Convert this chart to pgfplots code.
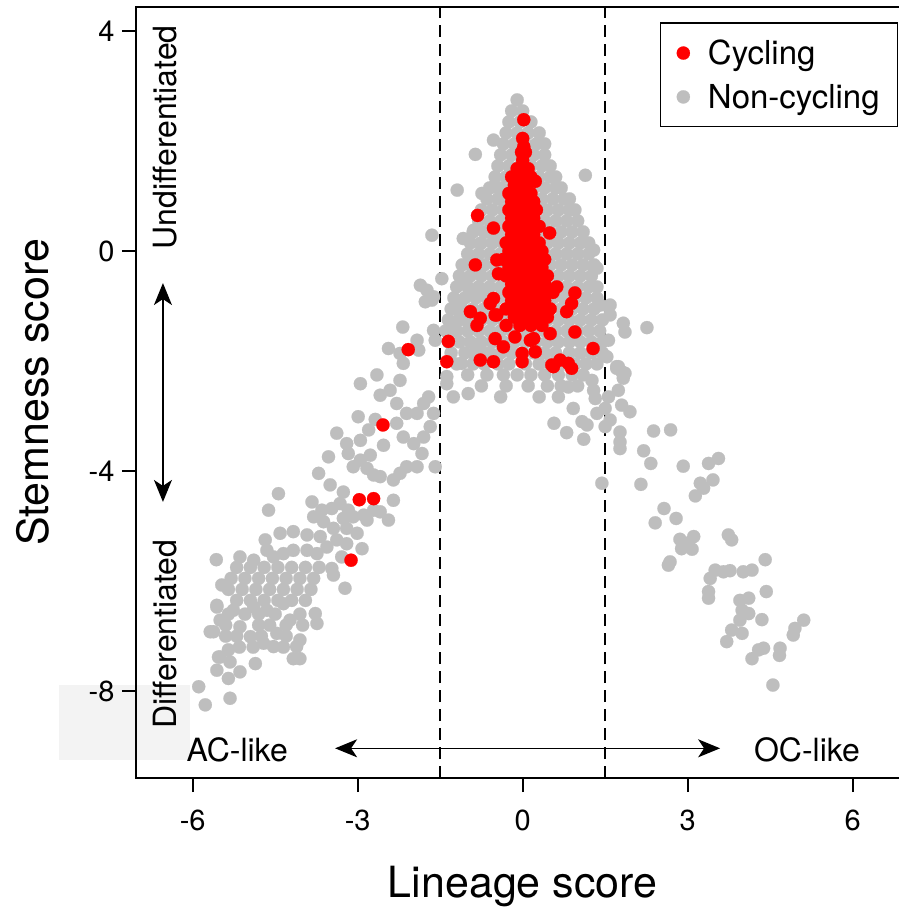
\documentclass[border=0pt]{standalone}
\usepackage{fontspec}
\setmainfont{TeX Gyre Heros}
\usepackage{pgfplots}
\pgfplotsset{compat=1.18}
\usetikzlibrary{arrows.meta}
\definecolor{cycred}{RGB}{255,0,0}
\definecolor{noncyc}{RGB}{190,190,190}
\definecolor{boxgray}{RGB}{243,243,243}

\begin{document}
\begin{tikzpicture}
% light patch behind the -8 label (axis box starts at the origin)
\fill[boxgray] (-77pt,18pt) rectangle (54pt,93pt);
\begin{axis}[
    scale only axis,
    width=776.6pt, height=771pt,
    xmin=-7.03, xmax=7.09, ymin=-9.58, ymax=4.44,
    clip=false,
    axis line style={line width=1.8pt},
    xtick={-6,-3,0,3,6}, ytick={-8,-4,0,4},
    xtick pos=bottom, ytick pos=left,
    tick align=outside, major tick length=14pt,
    every tick/.style={black, line width=1.8pt},
    /pgf/number format/assume math mode=true,
    ticklabel style={font=\fontsize{29}{34}\selectfont},
    xticklabel style={yshift=-14pt},
    yticklabel style={xshift=-4pt},
    xlabel={Lineage score}, ylabel={Stemness score},
    label style={font=\fontsize{43}{50}\selectfont},
    xlabel style={at={(axis description cs:0.4979,0)}, anchor=center, yshift=-109pt},
    ylabel style={at={(axis description cs:0,0.5)}, anchor=center, yshift=103pt},
    reverse legend,
    legend style={at={(axis cs:2.5,4.16)}, anchor=north west, draw=black,
        line width=1.2pt, font=\fontsize{33}{38}\selectfont,
        inner xsep=16pt, inner ysep=15pt, row sep=14pt, cells={anchor=west},
        /tikz/every odd column/.append style={column sep=16pt}},
    legend image code/.code={\draw[#1] plot coordinates {(0pt,0pt)};},
]
% non-cycling cells
\addplot[only marks, mark=*, mark size=6.6pt, color=noncyc,
  mark options={draw=noncyc, fill=noncyc, line width=0.2pt}] coordinates {
% central cluster
(-0.1,2.75)
(-0.2,2.55) (0.0,2.55)
(-0.25,2.35) (-0.05,2.35) (0.15,2.35)
(-0.3,2.15) (-0.1,2.15) (0.1,2.15) (0.3,2.15)
(-0.35,1.95) (-0.15,1.95) (0.05,1.95) (0.25,1.95) (0.4,1.95)
(-0.4,1.75) (-0.2,1.75) (0.0,1.75) (0.2,1.75) (0.4,1.75)
(-0.45,1.55) (-0.25,1.55) (-0.05,1.55) (0.15,1.55) (0.35,1.55) (0.5,1.55)
(-0.5,1.35) (-0.3,1.35) (-0.1,1.35) (0.1,1.35) (0.3,1.35) (0.5,1.35) (0.6,1.35)
(-0.6,1.15) (-0.4,1.15) (-0.2,1.15) (0.0,1.15) (0.2,1.15) (0.4,1.15) (0.6,1.15) (0.7,1.15)
(-0.65,0.95) (-0.45,0.95) (-0.25,0.95) (-0.05,0.95) (0.15,0.95) (0.35,0.95) (0.55,0.95) (0.75,0.95) (0.85,0.95)
(-0.75,0.75) (-0.55,0.75) (-0.35,0.75) (-0.15,0.75) (0.05,0.75) (0.25,0.75) (0.45,0.75) (0.65,0.75) (0.85,0.75) (0.95,0.75)
(-0.8,0.55) (-0.6,0.55) (-0.4,0.55) (-0.2,0.55) (0.0,0.55) (0.2,0.55) (0.4,0.55) (0.6,0.55) (0.8,0.55) (1.0,0.55)
(-0.9,0.35) (-0.7,0.35) (-0.5,0.35) (-0.3,0.35) (-0.1,0.35) (0.1,0.35) (0.3,0.35) (0.5,0.35) (0.7,0.35) (0.9,0.35) (1.1,0.35)
(-0.95,0.15) (-0.75,0.15) (-0.55,0.15) (-0.35,0.15) (-0.15,0.15) (0.05,0.15) (0.25,0.15) (0.45,0.15) (0.65,0.15) (0.85,0.15) (1.05,0.15) (1.2,0.15)
(-1.0,-0.05) (-0.8,-0.05) (-0.6,-0.05) (-0.4,-0.05) (-0.2,-0.05) (0.0,-0.05) (0.2,-0.05) (0.4,-0.05) (0.6,-0.05) (0.8,-0.05) (1.0,-0.05) (1.2,-0.05)
(-1.1,-0.25) (-0.9,-0.25) (-0.7,-0.25) (-0.5,-0.25) (-0.3,-0.25) (-0.1,-0.25) (0.1,-0.25) (0.3,-0.25) (0.5,-0.25) (0.7,-0.25) (0.9,-0.25) (1.1,-0.25) (1.3,-0.25)
(-1.15,-0.45) (-0.95,-0.45) (-0.75,-0.45) (-0.55,-0.45) (-0.35,-0.45) (-0.15,-0.45) (0.05,-0.45) (0.25,-0.45) (0.45,-0.45) (0.65,-0.45) (0.85,-0.45) (1.05,-0.45) (1.25,-0.45)
(-1.2,-0.65) (-1.0,-0.65) (-0.8,-0.65) (-0.6,-0.65) (-0.4,-0.65) (-0.2,-0.65) (0.0,-0.65) (0.2,-0.65) (0.4,-0.65) (0.6,-0.65) (0.8,-0.65) (1.0,-0.65) (1.2,-0.65) (1.35,-0.65)
(-1.25,-0.85) (-1.05,-0.85) (-0.85,-0.85) (-0.65,-0.85) (-0.45,-0.85) (-0.25,-0.85) (-0.05,-0.85) (0.15,-0.85) (0.35,-0.85) (0.55,-0.85) (0.75,-0.85) (0.95,-0.85) (1.15,-0.85) (1.35,-0.85)
(-1.3,-1.05) (-1.1,-1.05) (-0.9,-1.05) (-0.7,-1.05) (-0.5,-1.05) (-0.3,-1.05) (-0.1,-1.05) (0.1,-1.05) (0.3,-1.05) (0.5,-1.05) (0.7,-1.05) (0.9,-1.05) (1.1,-1.05) (1.3,-1.05)
(-1.35,-1.25) (-1.15,-1.25) (-0.95,-1.25) (-0.75,-1.25) (-0.55,-1.25) (-0.35,-1.25) (-0.15,-1.25) (0.05,-1.25) (0.25,-1.25) (0.45,-1.25) (0.65,-1.25) (0.85,-1.25) (1.05,-1.25) (1.25,-1.25) (1.45,-1.25)
(-1.4,-1.45) (-1.2,-1.45) (-1.0,-1.45) (-0.8,-1.45) (-0.6,-1.45) (-0.4,-1.45) (-0.2,-1.45) (0.0,-1.45) (0.2,-1.45) (0.4,-1.45) (0.6,-1.45) (0.8,-1.45) (1.0,-1.45) (1.2,-1.45) (1.4,-1.45)
(-1.35,-1.65) (-1.15,-1.65) (-0.95,-1.65) (-0.75,-1.65) (-0.55,-1.65) (-0.35,-1.65) (-0.15,-1.65) (0.05,-1.65) (0.25,-1.65) (0.45,-1.65) (0.65,-1.65) (0.85,-1.65) (1.05,-1.65) (1.25,-1.65) (1.45,-1.65)
(-1.3,-1.85) (-1.05,-1.85) (-0.85,-1.85) (-0.6,-1.85) (-0.4,-1.85) (-0.2,-1.85) (0.0,-1.85) (0.2,-1.85) (0.4,-1.85) (0.6,-1.85) (0.85,-1.85) (1.05,-1.85) (1.25,-1.85) (1.45,-1.85)
(-1.2,-2.05) (-0.9,-2.05) (-0.7,-2.05) (-0.45,-2.05) (-0.25,-2.05) (0.05,-2.05) (0.3,-2.05) (0.5,-2.05) (0.75,-2.05) (0.95,-2.05) (1.15,-2.05) (1.35,-2.05)
(-1.0,-2.25) (-0.65,-2.25) (-0.35,-2.25) (-0.1,-2.25) (0.15,-2.25) (0.4,-2.25) (0.65,-2.25) (0.9,-2.25) (1.1,-2.25)
(-0.75,-2.45) (-0.3,-2.45) (0.1,-2.45) (0.45,-2.45) (0.7,-2.45) (1.0,-2.45)
(-0.4,-2.65) (0.3,-2.65) (0.65,-2.65)
% central outliers and right shoulder
(-0.53,2.02) (-0.86,1.76) (-1.19,1.11) (1.14,1.38) (1.29,0.02) (1.35,-0.31)
(1.29,-0.29) (1.56,-1.01) (1.59,-1.16) (1.59,-0.98) (1.41,-0.98) (1.53,-1.92)
(1.56,-1.62) (1.71,-2.10) (1.71,-2.13) (1.86,-2.22) (1.26,-2.35) (1.29,-2.53)
(1.32,-2.68) (1.35,-2.95) (1.08,-3.10) (1.17,-3.16) (1.11,-3.42) (0.80,-3.30)
(0.57,-3.13) (0.92,-2.86) (0.83,-2.47)
% right arm
(2.26,-1.39) (1.83,-1.31) (1.86,-1.47) (1.74,-2.10) (1.80,-2.19) (1.83,-2.31)
(1.74,-2.53) (1.80,-2.80) (1.95,-2.92) (1.56,-2.65) (1.50,-2.86) (1.59,-3.07)
(1.50,-3.19) (1.77,-3.29) (1.77,-3.47) (1.77,-3.59) (2.38,-3.27) (2.69,-3.25)
(2.20,-3.63) (2.33,-3.86) (2.92,-3.91) (3.38,-3.86) (3.56,-3.77) (3.46,-4.16)
(3.23,-4.22) (3.14,-4.45) (3.29,-4.31) (1.44,-4.22) (2.15,-4.24) (2.57,-4.68)
(2.79,-4.86) (2.41,-4.94) (2.86,-5.24) (2.89,-5.41) (3.08,-5.42) (3.11,-5.19)
(2.99,-5.31) (2.65,-5.71) (2.68,-5.65) (3.74,-5.16) (3.80,-5.25) (4.41,-5.61)
(3.50,-5.80) (3.65,-5.83) (3.77,-5.81) (3.41,-5.95) (4.01,-5.83) (4.17,-5.80)
(3.38,-6.19) (3.38,-6.31) (4.43,-6.19) (3.95,-6.35) (4.11,-6.31) (3.99,-6.53)
(4.11,-6.59) (3.95,-6.71) (4.35,-6.70) (3.80,-6.89) (3.99,-6.95) (3.71,-7.10)
(5.11,-6.71) (4.95,-6.86) (4.92,-6.98) (4.38,-7.22) (4.29,-7.25) (4.17,-7.41)
(4.68,-7.22) (4.67,-7.35) (4.55,-7.89)
% left arm, upper part
(-1.65,0.29) (-1.08,0.23) (-0.74,1.05) (-0.53,1.17) (-0.35,0.99)
(-0.89,0.38) (-0.77,0.14) (-0.65,0.35) (-0.41,0.32)
(-1.86,-0.62) (-1.74,-0.71) (-1.65,-0.89) (-1.77,-0.92) (-1.62,-0.83) (-1.47,-0.50)
(-1.08,-0.56) (-0.95,-0.25) (-0.92,-0.77) (-0.77,-0.71) (-1.20,-0.98) (-1.14,-1.19)
(-1.29,-1.31) (-0.99,-1.29)
(-2.18,-1.38) (-2.44,-1.77) (-2.23,-1.86) (-1.92,-1.62) (-1.89,-1.80) (-2.17,-2.04)
(-2.23,-2.35) (-2.65,-2.25) (-2.95,-2.41) (-2.59,-2.62) (-2.41,-2.53)
(-1.62,-1.44) (-1.59,-1.62)
(-2.29,-2.77) (-2.11,-2.95) (-1.92,-2.95) (-1.80,-2.77) (-1.71,-2.65) (-1.62,-2.95)
(-1.68,-3.19) (-1.80,-3.38) (-1.98,-3.50) (-2.17,-3.38) (-2.29,-3.13)
(-2.99,-3.01) (-2.68,-3.06) (-2.80,-3.25) (-3.38,-3.31) (-3.20,-3.50) (-2.95,-3.44)
(-2.53,-3.53)
(-1.26,-2.65) (-0.99,-2.59) (-0.89,-1.86) (-1.11,-2.04) (-0.77,-1.77) (-0.68,-2.04)
(-1.38,-2.28) (-1.38,-2.41)
% left arm, middle part
(-3.53,-3.74) (-3.17,-3.68) (-2.95,-3.80) (-2.77,-3.71) (-3.08,-3.92) (-2.83,-3.95)
(-2.71,-4.07) (-2.59,-4.10) (-2.35,-4.16) (-2.23,-4.04) (-2.11,-3.92) (-1.92,-3.92)
(-1.59,-3.92) (-1.83,-3.68) (-3.71,-4.04) (-3.50,-4.25) (-3.26,-4.38) (-4.44,-4.41)
(-4.62,-4.71)
(-3.83,-4.56) (-3.65,-4.71) (-3.47,-4.68) (-3.32,-4.59) (-3.17,-4.71) (-3.26,-4.86)
(-3.08,-4.83) (-2.89,-4.80) (-2.83,-4.89) (-2.71,-4.71) (-2.59,-4.74) (-2.44,-4.89)
(-2.35,-4.53)
(-3.80,-4.83) (-3.62,-4.92) (-3.44,-5.04) (-3.20,-5.04) (-3.01,-5.13) (-2.92,-5.41)
(-4.68,-5.25)
(-4.41,-5.13) (-4.17,-5.10) (-3.92,-5.16) (-3.68,-5.19) (-3.38,-5.25) (-3.20,-5.32)
(-3.29,-5.56) (-3.47,-5.77) (-3.44,-5.89) (-3.23,-6.13)
(-5.57,-5.61) (-5.14,-5.56) (-4.89,-5.62) (-4.65,-5.44) (-4.53,-5.56) (-4.35,-5.50)
(-4.17,-5.44) (-3.92,-5.44) (-3.74,-5.50) (-3.56,-5.38)
(-5.47,-6.07)
% left arm, lower cluster
(-5.2,-5.75) (-4.95,-5.75) (-4.7,-5.75) (-4.45,-5.75) (-4.2,-5.75) (-3.95,-5.75) (-3.7,-5.75)
(-5.3,-5.95) (-5.05,-5.95) (-4.8,-5.95) (-4.55,-5.95) (-4.3,-5.95) (-4.05,-5.95) (-3.8,-5.95)
(-5.35,-6.15) (-5.1,-6.15) (-4.85,-6.15) (-4.6,-6.15) (-4.35,-6.15) (-4.1,-6.15) (-3.85,-6.15)
(-5.2,-6.35) (-4.95,-6.35) (-4.7,-6.35) (-4.45,-6.35) (-4.2,-6.35) (-3.95,-6.35)
(-5.35,-6.6) (-5.05,-6.6) (-4.8,-6.6) (-4.5,-6.6) (-4.05,-6.6)
(-5.4,-6.8) (-4.8,-6.8) (-4.6,-6.8) (-4.3,-6.8) (-4.0,-6.8)
(-5.4,-7.0) (-5.2,-7.0) (-4.75,-7.0) (-4.3,-7.0)
(-5.15,-7.2) (-4.9,-7.2) (-4.35,-7.2)
(-5.68,-6.92) (-5.56,-6.47) (-5.50,-7.38) (-5.35,-7.25) (-5.56,-7.62) (-5.35,-7.77)
(-5.14,-7.65) (-4.86,-7.50) (-5.32,-8.13) (-5.89,-7.92) (-5.77,-8.25) (-4.17,-7.41)
(-4.05,-7.41) (-4.11,-7.19) (-4.05,-7.07) (-3.77,-6.59) (-3.74,-6.77) (-5.53,-7.38)
(-5.32,-7.47) (-5.62,-6.92) (-5.50,-6.71) (-5.56,-6.44) (-5.26,-6.53) (-5.14,-6.83)
(-4.95,-7.01) (-4.71,-7.13) (-4.53,-7.19) (-4.47,-6.95) (-4.23,-6.71) (-4.89,-6.47)
(-4.65,-6.53) (-4.35,-6.41)
};
\addlegendentry{Non-cycling}

% cycling cells
\addplot[only marks, mark=*, mark size=6.6pt, color=cycred,
  mark options={draw=cycred, fill=cycred, line width=0.2pt}] coordinates {
(0.02,2.39) (0.0,2.05) (0.02,1.9) (-0.02,1.8) (0.05,1.8) (0.0,1.65)
(-0.1,1.5) (0.1,1.5) (-0.2,1.35) (0.0,1.35) (0.15,1.35) (0.23,1.27)
(-0.15,1.2) (0.05,1.2) (-0.25,1.05) (-0.05,1.05) (0.15,1.05)
(-0.2,0.9) (0.0,0.9) (0.2,0.9) (-0.25,0.75) (-0.05,0.75) (0.15,0.75) (0.25,0.75)
(-0.2,0.6) (0.0,0.6) (0.2,0.6) (-0.25,0.45) (-0.05,0.45) (0.15,0.45) (0.3,0.45)
(-0.2,0.3) (0.0,0.3) (0.2,0.3) (-0.3,0.15) (-0.1,0.15) (0.1,0.15) (0.3,0.15)
(-0.25,0.0) (-0.05,0.0) (0.15,0.0) (0.35,0.0)
(-0.35,-0.15) (-0.15,-0.15) (0.05,-0.15) (0.25,-0.15) (0.4,-0.15)
(-0.25,-0.3) (-0.05,-0.3) (0.15,-0.3) (0.35,-0.3)
(-0.3,-0.45) (-0.1,-0.45) (0.1,-0.45) (0.3,-0.45) (0.45,-0.45)
(-0.2,-0.6) (0.0,-0.6) (0.2,-0.6) (0.4,-0.6)
(-0.25,-0.75) (-0.05,-0.75) (0.15,-0.75) (0.35,-0.75) (0.55,-0.75)
(-0.2,-0.9) (0.0,-0.9) (0.2,-0.9) (0.4,-0.9)
(-0.3,-1.05) (-0.1,-1.05) (0.1,-1.05) (0.3,-1.05) (0.5,-1.05)
(-0.15,-1.2) (0.05,-1.2) (0.25,-1.2) (0.45,-1.2)
(-0.3,-1.35) (-0.05,-1.35) (0.15,-1.35) (0.35,-1.35)
(-0.82,0.65) (-0.53,0.42) (0.49,0.33) (-0.86,-0.25) (-0.47,-0.16) (-0.44,-0.41)
(0.95,-0.76) (0.62,-0.65) (0.89,-0.95) (0.80,-1.10) (-0.53,-0.86) (-0.59,-0.95)
(-0.50,-1.16) (-0.95,-1.10) (-0.77,-1.22) (-0.83,-1.35) (-0.47,-1.16) (0.95,-1.47)
(1.28,-1.77) (-1.35,-1.64) (-1.38,-2.01) (-2.08,-1.79) (-0.77,-1.98) (-0.53,-2.01)
(-0.50,-1.59) (-0.35,-1.74) (-0.14,-1.56) (-0.01,-2.01) (0.23,-1.83) (0.20,-1.59)
(0.14,-1.62) (-0.01,-1.86) (0.50,-1.50) (0.53,-2.07) (0.68,-1.98) (0.83,-2.04)
(0.89,-2.13) (0.56,-2.10) (-3.12,-5.62) (-2.97,-4.52) (-2.71,-4.50) (-2.54,-3.16)
};
\addlegendentry{Cycling}

% boundaries of the lineage classes
\draw[line width=1.8pt, dash pattern=on 12pt off 7pt] (axis cs:-1.5,-9.58) -- (axis cs:-1.5,4.44);
\draw[line width=1.8pt, dash pattern=on 12pt off 7pt] (axis cs:1.5,-9.58) -- (axis cs:1.5,4.44);

% direction arrows and their captions
\draw[line width=1.6pt, {Stealth[length=22pt,width=18pt,inset=6pt]}-{Stealth[length=22pt,width=18pt,inset=6pt]}]
  (axis cs:-3.41,-9.04) -- (axis cs:3.59,-9.04);
\draw[line width=1.6pt, {Stealth[length=22pt,width=18pt,inset=6pt]}-{Stealth[length=22pt,width=18pt,inset=6pt]}]
  (axis cs:-6.54,-0.58) -- (axis cs:-6.54,-4.56);
\node[font=\fontsize{32}{38}\selectfont] at (axis cs:-5.19,-9.07) {AC-like};
\node[font=\fontsize{32}{38}\selectfont] at (axis cs:5.17,-9.07) {OC-like};
\node[font=\fontsize{32}{38}\selectfont, rotate=90] at (axis cs:-6.5,2.07) {Undifferentiated};
\node[font=\fontsize{32}{38}\selectfont, rotate=90] at (axis cs:-6.5,-6.96) {Differentiated};
\end{axis}
\pgfresetboundingbox
\useasboundingbox (-136pt,-135pt) rectangle (763pt,778pt);
\end{tikzpicture}
\end{document}
